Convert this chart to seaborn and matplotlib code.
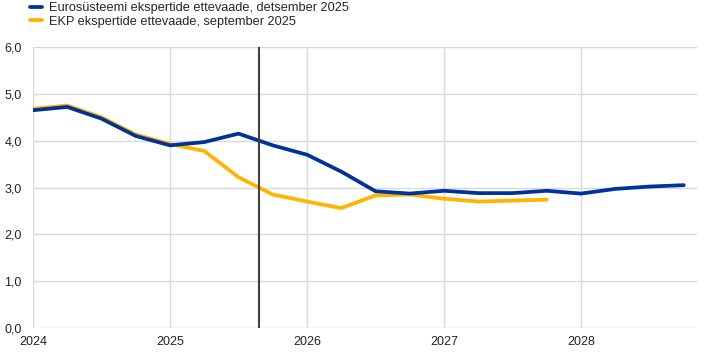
import numpy as np
import pandas as pd
import matplotlib
matplotlib.use("Agg")
import matplotlib.pyplot as plt
import seaborn as sns

# Kvartalid 2024 Q1 - 2028 Q4
quarters = [2024 + i * 0.25 for i in range(20)]

dets_2025 = [4.65, 4.72, 4.47, 4.10, 3.90, 3.97, 4.15, 3.90, 3.70, 3.34,
             2.92, 2.87, 2.93, 2.88, 2.88, 2.93, 2.87, 2.97, 3.02, 3.05]
sept_2025 = [4.68, 4.75, 4.50, 4.13, 3.93, 3.78, 3.22, 2.85, 2.70, 2.56,
             2.83, 2.85, 2.76, 2.70, 2.72, 2.74]

series_names = ["Eurosüsteemi ekspertide ettevaade, detsember 2025",
                "EKP ekspertide ettevaade, september 2025"]
colors = ["#003299", "#FFB400"]
cutoff = 2025.65

df = pd.concat([
    pd.DataFrame({"aeg": quarters, "väärtus": dets_2025, "seeria": series_names[0]}),
    pd.DataFrame({"aeg": quarters[:len(sept_2025)], "väärtus": sept_2025, "seeria": series_names[1]}),
])

sns.set_style("white")
plt.rcParams["font.family"] = ["Liberation Sans", "DejaVu Sans"]

fig = plt.figure(figsize=(7.05, 3.54), dpi=100)
ax = fig.add_axes([33 / 705, 1 - 328 / 354, 664 / 705, 281 / 354])

# kollane joon alla, sinine peale
sns.lineplot(data=df[df["seeria"] == series_names[1]], x="aeg", y="väärtus",
             color=colors[1], linewidth=2.7, ax=ax, label=series_names[1], zorder=3)
sns.lineplot(data=df[df["seeria"] == series_names[0]], x="aeg", y="väärtus",
             color=colors[0], linewidth=2.7, ax=ax, label=series_names[0], zorder=4)

ax.axvline(cutoff, color="#404040", linewidth=1.5, zorder=5)

ax.set_xlim(2024, 2024 + 664 / 137)
ax.set_ylim(0, 6)
ax.set_xticks([2024, 2025, 2026, 2027, 2028])
ax.set_xticklabels(["2024", "2025", "2026", "2027", "2028"])
ax.set_yticks(np.arange(0, 6.1, 1))
ax.set_yticklabels([f"{v:.1f}".replace(".", ",") for v in np.arange(0, 6.1, 1)])
ax.grid(True, color="#d9d9d9", linewidth=1)
ax.set_axisbelow(True)
for s in ax.spines.values():
    s.set_visible(False)
ax.tick_params(axis="both", length=0, labelsize=9, colors="#222222")
ax.tick_params(axis="x", pad=6)
ax.tick_params(axis="y", pad=8)
ax.set_xlabel("")
ax.set_ylabel("")

handles, labels = ax.get_legend_handles_labels()
ax.get_legend().remove()
fig.legend(handles[::-1], labels[::-1], loc="upper left",
           bbox_to_anchor=(30 / 705, 1 - 2 / 354),
           frameon=False, fontsize=9.2, handlelength=0.9, handletextpad=0.6,
           labelspacing=0.12, borderaxespad=0, borderpad=0)

fig.savefig("out.png", dpi=100)
